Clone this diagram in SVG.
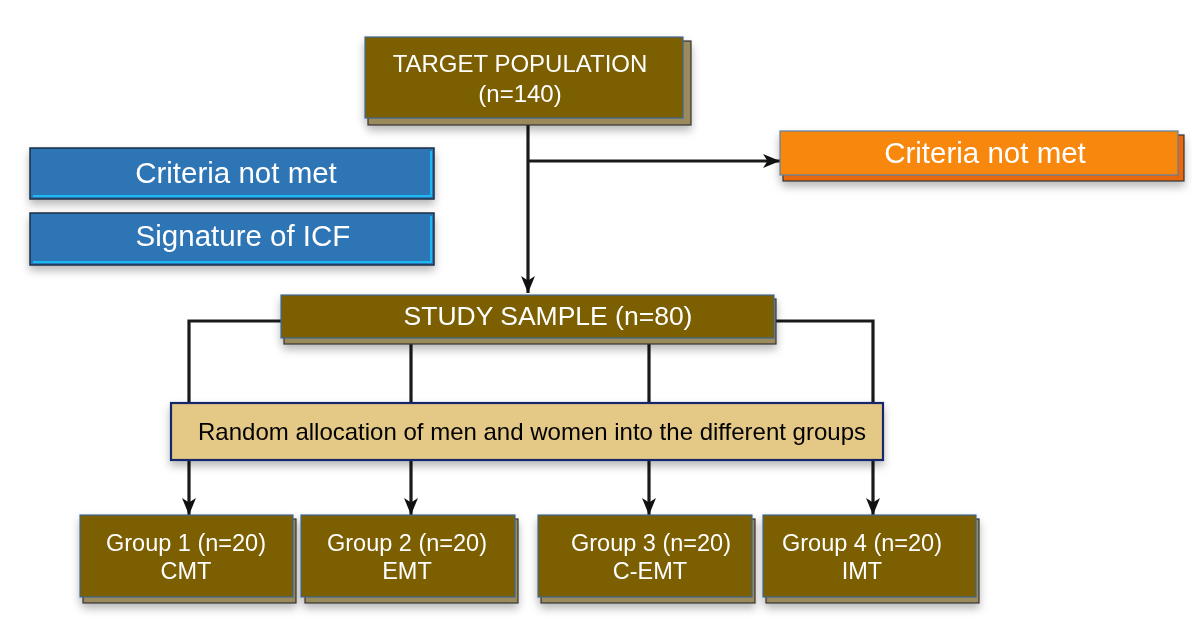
<svg xmlns="http://www.w3.org/2000/svg" width="1192" height="622" viewBox="0 0 1192 622">
<defs>
<filter id="soft" x="-10%" y="-30%" width="120%" height="170%">
<feDropShadow dx="0" dy="5" stdDeviation="4" flood-color="#000" flood-opacity="0.28"/>
</filter>
<marker id="arr" markerUnits="userSpaceOnUse" markerWidth="18" markerHeight="18" viewBox="0 0 18 18" refX="17" refY="9" orient="auto">
<path d="M0,2 L17,9 L0,16 L4.5,9 Z" fill="#111"/>
</marker>
<style>
text{font-family:"Liberation Sans",Arial,sans-serif;text-anchor:middle}
.w{fill:#fff}
.brown{fill:#7B5E00;stroke:#3E6A96;stroke-width:1.2}
.bshadow{fill:#9A8A5C;stroke:#333;stroke-width:1.2}
.blue{fill:#2F74B5;stroke:#1B2F45;stroke-width:1.5}
.cyan{fill:none;stroke:#1DB8F2;stroke-width:2}
.conn{fill:none;stroke:#1a1a1a;stroke-width:3.2}
</style>
</defs>

<g id="connectors">
<path class="conn" d="M528 118 V293" marker-end="url(#arr)"/>
<path class="conn" d="M528 161 H780" marker-end="url(#arr)"/>
<path class="conn" d="M281 321 H189 V515" marker-end="url(#arr)"/>
<path class="conn" d="M411 338 V515" marker-end="url(#arr)"/>
<path class="conn" d="M649 338 V515" marker-end="url(#arr)"/>
<path class="conn" d="M774 321 H873 V515" marker-end="url(#arr)"/>
</g>

<g id="target-population" filter="url(#soft)">
<rect class="bshadow" x="368" y="41" width="323" height="84"/>
<rect class="brown" x="365" y="37" width="318" height="81"/>
<text class="w" x="520" y="72" font-size="24">TARGET POPULATION</text>
<text class="w" x="520" y="102" font-size="24">(n=140)</text>
</g>

<g id="criteria-not-met-right" filter="url(#soft)">
<rect x="783" y="135" width="401" height="46" fill="#E8670C" stroke="#333" stroke-width="1.2"/>
<rect x="780" y="131" width="398" height="44" fill="#F7870B" stroke="#5A80A8" stroke-width="1.2"/>
<text class="w" x="985" y="163" font-size="29.5">Criteria not met</text>
</g>

<g id="criteria-not-met-left" filter="url(#soft)">
<rect class="blue" x="30" y="148" width="404" height="51"/>
<path class="cyan" d="M431 151 V196 H33"/>
<text class="w" x="236" y="183" font-size="29.5">Criteria not met</text>
</g>

<g id="signature-icf" filter="url(#soft)">
<rect class="blue" x="30" y="213" width="404" height="52"/>
<path class="cyan" d="M431 216 V262 H33"/>
<text class="w" x="243" y="246" font-size="29.5">Signature of ICF</text>
</g>

<g id="study-sample" filter="url(#soft)">
<rect class="bshadow" x="284" y="299" width="492" height="45"/>
<rect class="brown" x="281" y="295" width="493" height="43"/>
<text class="w" x="548" y="325" font-size="26.5">STUDY SAMPLE (n=80)</text>
</g>

<g id="random-allocation" filter="url(#soft)">
<rect x="171" y="403" width="712" height="57" fill="#E4C886" stroke="#14286A" stroke-width="2.2"/>
<text x="532" y="440" font-size="24" fill="#000">Random allocation of men and women into the different groups</text>
</g>

<g id="group1" filter="url(#soft)">
<rect class="bshadow" x="83" y="519" width="213" height="84"/>
<rect class="brown" x="80" y="515" width="213" height="82"/>
<text class="w" x="186" y="551" font-size="23.5">Group 1 (n=20)</text>
<text class="w" x="186" y="579" font-size="23.5">CMT</text>
</g>

<g id="group2" filter="url(#soft)">
<rect class="bshadow" x="305" y="519" width="213" height="84"/>
<rect class="brown" x="301" y="515" width="214" height="82"/>
<text class="w" x="407" y="551" font-size="23.5">Group 2 (n=20)</text>
<text class="w" x="407" y="579" font-size="23.5">EMT</text>
</g>

<g id="group3" filter="url(#soft)">
<rect class="bshadow" x="541" y="519" width="214" height="84"/>
<rect class="brown" x="538" y="515" width="214" height="82"/>
<text class="w" x="651" y="551" font-size="23.5">Group 3 (n=20)</text>
<text class="w" x="650" y="579" font-size="23.5">C-EMT</text>
</g>

<g id="group4" filter="url(#soft)">
<rect class="bshadow" x="766" y="519" width="213" height="84"/>
<rect class="brown" x="763" y="515" width="213" height="82"/>
<text class="w" x="862" y="551" font-size="23.5">Group 4 (n=20)</text>
<text class="w" x="862" y="579" font-size="23.5">IMT</text>
</g>
</svg>
